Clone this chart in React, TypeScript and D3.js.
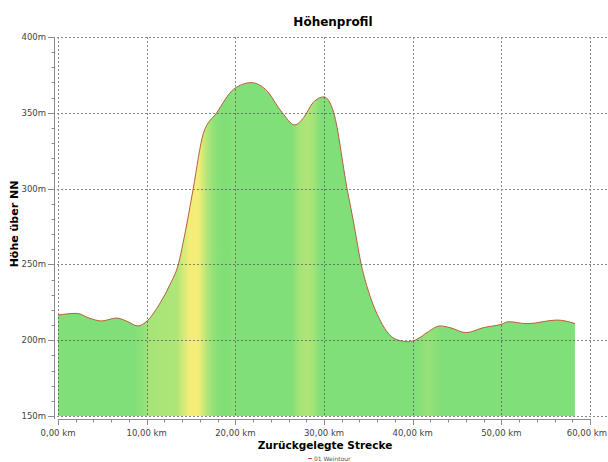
import React, { useEffect, useRef } from 'react'
import * as d3 from 'd3'

// distance in km and elevation in m read from the profile
const distances = [0, 2.1, 3.6, 4.9, 6.6, 7.7, 9.0, 10.1, 11.5, 12.6, 13.6, 14.1, 14.7, 15.25, 16.4, 17.9, 19.8, 21.8, 23.4, 25.3, 26.7, 27.7, 28.8, 30, 31.1, 32.6, 33.3, 34.2, 35.2, 36.3, 37.4, 38.4, 39.5, 40.6, 41.6, 43.1, 44.2, 46, 48, 50, 50.8, 52.9, 56.3, 58.3]
const elevations = [216.6, 217.7, 214.4, 212.7, 214.6, 212.7, 209.4, 213, 224.4, 236.4, 250.7, 264, 282, 300, 336.5, 350, 365.5, 369.9, 365.5, 350, 342, 346.8, 357, 360.5, 350, 300, 279, 250, 229, 213.5, 203.5, 200, 199, 201, 205, 209.4, 208.3, 205, 208.3, 210.5, 212.2, 210.9, 213.3, 211]

// colour band along the track (0 = green, 1 = yellow)
const bandKm = [0, 8.5, 9.6, 10.2, 13.4, 14.2, 14.9, 15.8, 16.6, 17.5, 18.5, 19.3, 19.8, 20.4, 26.3, 27.2, 27.9, 28.8, 29.6, 40, 40.8, 41.7, 42.7, 43.5, 58.3]
const bandValue = [0, 0, 0.12, 0.32, 0.4, 0.75, 1, 1, 0.55, 0.15, 0, 0, 0.08, 0, 0, 0.3, 0.42, 0.3, 0, 0, 0.06, 0.2, 0.06, 0, 0]

const yTicks = [150, 200, 250, 300, 350, 400]
const xTicks = [0, 10, 20, 30, 40, 50, 60]

export default function App() {
  const svgRef = useRef<SVGSVGElement>(null)

  useEffect(() => {
    const svg = d3.select(svgRef.current)
    svg.selectAll('*').remove()

    const width = 608
    const height = 462
    const left = 58
    const right = 590
    const top = 37
    const bottom = 416
    const font = 'DejaVu Sans, Verdana, sans-serif'

    const x = d3.scaleLinear().domain([0, 60]).range([left, right])
    const y = d3.scaleLinear().domain([150, 400]).range([bottom, top])

    svg.attr('width', width).attr('height', height)

    // gradient for the fill
    const green = '#80df78'
    const yellow = '#f4ee78'
    const mix = d3.interpolateRgb(green, yellow)
    const grad = svg.append('defs').append('linearGradient')
      .attr('id', 'band')
      .attr('gradientUnits', 'userSpaceOnUse')
      .attr('x1', x(0)).attr('x2', x(60)).attr('y1', 0).attr('y2', 0)
    bandKm.forEach((km, i) => {
      grad.append('stop')
        .attr('offset', km / 60)
        .attr('stop-color', mix(bandValue[i]))
    })

    const pts = distances.map((d, i) => [d, elevations[i]] as [number, number])

    const area = d3.area<[number, number]>()
      .x(d => x(d[0]))
      .y0(bottom)
      .y1(d => y(d[1]))
      .curve(d3.curveMonotoneX)

    const line = d3.line<[number, number]>()
      .x(d => x(d[0]))
      .y(d => y(d[1]))
      .curve(d3.curveMonotoneX)

    svg.append('path')
      .attr('d', area(pts))
      .attr('fill', 'url(#band)')

    svg.append('path')
      .attr('d', line(pts))
      .attr('fill', 'none')
      .attr('stroke', '#b8603c')
      .attr('stroke-width', 1)

    // grid
    const grid = svg.append('g')
      .attr('stroke', '#555')
      .attr('stroke-width', 1)
      .attr('stroke-dasharray', '2,2')
      .attr('opacity', 0.7)
    yTicks.forEach(t => {
      grid.append('line')
        .attr('x1', left - 1).attr('x2', width)
        .attr('y1', Math.round(y(t)) + 0.5).attr('y2', Math.round(y(t)) + 0.5)
    })
    xTicks.forEach(t => {
      grid.append('line')
        .attr('x1', Math.round(x(t)) + 0.5).attr('x2', Math.round(x(t)) + 0.5)
        .attr('y1', top).attr('y2', bottom)
    })

    // y axis
    const yAxis = svg.append('g').attr('stroke', '#8a8a8a').attr('stroke-width', 1)
    yAxis.append('line')
      .attr('x1', 54.5).attr('x2', 54.5).attr('y1', top).attr('y2', bottom + 3)
    d3.range(150, 401, 10).forEach(v => {
      const major = v % 50 === 0
      yAxis.append('line')
        .attr('x1', major ? 48 : 51.5).attr('x2', 54.5)
        .attr('y1', Math.round(y(v)) + 0.5).attr('y2', Math.round(y(v)) + 0.5)
    })
    yTicks.forEach(t => {
      svg.append('text')
        .attr('x', 46).attr('y', y(t) + 3)
        .attr('text-anchor', 'end')
        .style('font-family', font).style('font-size', '8.5px')
        .style('fill', '#444')
        .text(`${t}m`)
    })

    // x axis
    const xAxis = svg.append('g').attr('stroke', '#8a8a8a').attr('stroke-width', 1)
    xAxis.append('line')
      .attr('x1', left).attr('x2', right + 1).attr('y1', 419.5).attr('y2', 419.5)
    d3.range(0, 61, 2).forEach(v => {
      const major = v % 10 === 0
      xAxis.append('line')
        .attr('x1', Math.round(x(v)) + 0.5).attr('x2', Math.round(x(v)) + 0.5)
        .attr('y1', 419.5).attr('y2', major ? 425 : 422.5)
    })
    xTicks.forEach(t => {
      const last = t === 60
      svg.append('text')
        .attr('x', last ? width - 1 : x(t)).attr('y', 436)
        .attr('text-anchor', last ? 'end' : 'middle')
        .style('font-family', font).style('font-size', '8.5px')
        .style('fill', '#444')
        .text(`${t.toFixed(2).replace('.', ',')} km`)
    })

    // titles
    svg.append('text')
      .attr('x', 333).attr('y', 26)
      .attr('text-anchor', 'middle')
      .style('font-family', font).style('font-size', '12px').style('font-weight', '700')
      .text('Höhenprofil')

    svg.append('text')
      .attr('x', 325).attr('y', 449)
      .attr('text-anchor', 'middle')
      .style('font-family', font).style('font-size', '10.5px').style('font-weight', '700')
      .text('Zurückgelegte Strecke')

    svg.append('text')
      .attr('transform', `translate(18, ${224}) rotate(-90)`)
      .attr('text-anchor', 'middle')
      .style('font-family', font).style('font-size', '11px').style('font-weight', '700')
      .text('Höhe über NN')

    // legend
    svg.append('line')
      .attr('x1', 308).attr('x2', 312).attr('y1', 458.5).attr('y2', 458.5)
      .attr('stroke', '#c0503a').attr('stroke-width', 1)
    svg.append('text')
      .attr('x', 314).attr('y', 461)
      .style('font-family', font).style('font-size', '6px')
      .style('fill', '#555')
      .text('01 Weintour')
  }, [])

  return (
    <svg ref={svgRef} style={{ position: 'absolute', left: 0, top: 0, background: '#fff' }} />
  )
}
